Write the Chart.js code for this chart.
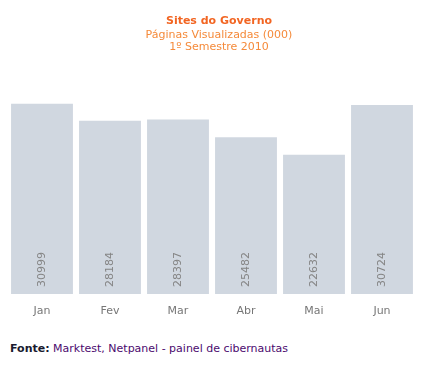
<!DOCTYPE html>
<html>
<head>
<meta charset="utf-8">
<script src="https://cdn.jsdelivr.net/npm/chart.js@4.4.1/dist/chart.umd.min.js"></script>
<style>
  body { margin: 0; background: #fff; }
  #wrap { position: relative; width: 422px; height: 330px; }
  #fonte {
    position: absolute; left: 10px; top: 342px;
    font: 11px "DejaVu Sans", Verdana, sans-serif; color: #4b0a6e;
  }
  #fonte b { color: #1a1a2e; }
</style>
</head>
<body>
<div id="wrap"><canvas id="chart"></canvas></div>
<div id="fonte"><b>Fonte:</b> Marktest, Netpanel - painel de cibernautas</div>
<script>
// === dados ===
const meses = ["Jan", "Fev", "Mar", "Abr", "Mai", "Jun"];
const paginas = [30999, 28184, 28397, 25482, 22632, 30724];
const titulo = "Sites do Governo";
const subtitulo = ["Páginas Visualizadas (000)", "1º Semestre 2010"];

const fonte = "'DejaVu Sans', Verdana, sans-serif";

// === valores dentro das barras (rodados) ===
const valoresPlugin = {
  id: "valores",
  afterLayout(chart) {
    // título um pouco à direita, como no original
    chart.boxes.forEach(b => {
      if (b.options && b.options.text !== undefined && b.options.position === "top") {
        b.left += 7;
        b.right += 7;
      }
    });
  },
  afterDatasetsDraw(chart) {
    const ctx = chart.ctx;
    const meta = chart.getDatasetMeta(0);
    ctx.save();
    ctx.font = "11px " + fonte;
    ctx.fillStyle = "#858585";
    ctx.textAlign = "left";
    ctx.textBaseline = "middle";
    meta.data.forEach((bar, i) => {
      ctx.save();
      ctx.translate(bar.x, bar.base - 7);
      ctx.rotate(-Math.PI / 2);
      ctx.fillText(String(paginas[i]), 0, 0);
      ctx.restore();
    });
    ctx.restore();
  }
};

new Chart(document.getElementById("chart"), {
  type: "bar",
  data: {
    labels: meses,
    datasets: [{
      data: paginas,
      backgroundColor: "#d0d7e0",
      borderWidth: 0,
      barPercentage: 0.91,
      categoryPercentage: 1,
    }],
  },
  options: {
    responsive: true,
    maintainAspectRatio: false,
    animation: false,
    layout: { padding: { left: 8, right: 6, top: 0, bottom: 0 } },
    plugins: {
      legend: { display: false },
      tooltip: { enabled: false },
      title: {
        display: true,
        text: titulo,
        color: "#f26522",
        font: { family: fonte, size: 11, weight: "bold", lineHeight: 1.2 },
        padding: { top: 15, bottom: 1 },
      },
      subtitle: {
        display: true,
        text: subtitulo,
        color: "#f58a3a",
        font: { family: fonte, size: 11, lineHeight: 1.1 },
        padding: { top: 0, bottom: 50 },
      },
    },
    scales: {
      x: {
        grid: { display: false, drawTicks: false },
        border: { display: false },
        ticks: { color: "#777", font: { family: fonte, size: 11 }, padding: 11 },
        afterFit(scale) { scale.height = 36; },
      },
      y: { display: false, min: 0, max: 31000 },
    },
  },
  plugins: [valoresPlugin],
});
</script>
</body>
</html>
